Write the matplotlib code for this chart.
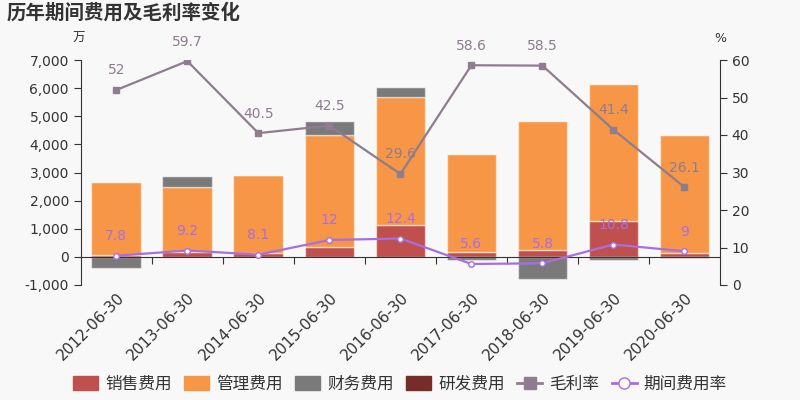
import numpy as np
import matplotlib
matplotlib.use("Agg")
import matplotlib.pyplot as plt
from matplotlib.ticker import FuncFormatter, FixedLocator
from matplotlib.lines import Line2D

plt.rcParams['font.family'] = ['DejaVu Sans', 'Noto Sans CJK SC']

# data (万 / %)
dates = ["2012-06-30", "2013-06-30", "2014-06-30", "2015-06-30", "2016-06-30",
         "2017-06-30", "2018-06-30", "2019-06-30", "2020-06-30"]
sales = [80, 177, 150, 340, 1120, 190, 260, 1290, 130]
admin = [2600, 2317, 2770, 4000, 4565, 3475, 4565, 4870, 4210]
finance = [-390, 380, 0, 500, 365, -95, -800, -105, -40]
rnd = [0, 0, 0, 0, 0, 0, 0, 0, 0]
gross_margin = [52, 59.7, 40.5, 42.5, 29.6, 58.6, 58.5, 41.4, 26.1]
expense_rate = [7.8, 9.2, 8.1, 12, 12.4, 5.6, 5.8, 10.8, 9]

c_sales = "#c0504d"
c_admin = "#f79646"
c_fin = "#7a7a7a"
c_rnd = "#772c2a"
c_gm = "#8e7c8f"
c_er = "#a86ee0"
bg = "#f8f8f8"

fig = plt.figure(figsize=(8, 4), dpi=100, facecolor=bg)
ax = fig.add_axes([0.101, 0.2875, 0.799, 0.5625])
ax.set_facecolor(bg)

x = np.arange(len(dates)) + 0.5
w = 0.7

# stack positives up, negatives down
pos_base = np.zeros(len(x))
neg_base = np.zeros(len(x))
for vals, col in [(sales, c_sales), (admin, c_admin), (finance, c_fin), (rnd, c_rnd)]:
    v = np.array(vals, dtype=float)
    bottom = np.where(v >= 0, pos_base, neg_base)
    ax.bar(x, v, w, bottom=bottom, color=col, edgecolor=(1, 1, 1, 0.5), linewidth=1, zorder=2)
    pos_base = pos_base + np.where(v > 0, v, 0)
    neg_base = neg_base + np.where(v < 0, v, 0)

ax.set_xlim(0, len(dates))
ax.set_ylim(-1000, 7000)
ax.set_yticks(range(-1000, 7001, 1000))
ax.yaxis.set_major_formatter(FuncFormatter(lambda v, p: f"{int(v):,}"))
ax.tick_params(axis='y', labelsize=10, colors="#333333", length=5)

ax.spines['top'].set_visible(False)
ax.spines['right'].set_visible(False)
ax.spines['left'].set_color("#333333")
ax.spines['bottom'].set_position(('data', 0))
ax.spines['bottom'].set_color("#333333")
ax.xaxis.set_major_locator(FixedLocator(range(1, len(dates))))
ax.tick_params(axis='x', which='major', length=5, labelbottom=False, color="#333333")
ax.set_xticks(x, minor=True)
ax.set_xticklabels(dates, minor=True, rotation=45, ha='right', rotation_mode='anchor',
                   fontsize=11, color="#333333")
ax.tick_params(axis='x', which='minor', length=0, pad=24)

ax2 = ax.twinx()
ax2.set_ylim(0, 60)
ax2.set_yticks(range(0, 61, 10))
ax2.tick_params(axis='y', labelsize=10, colors="#333333", length=5)
for s in ['top', 'left', 'bottom']:
    ax2.spines[s].set_visible(False)
ax2.spines['right'].set_color("#333333")

ax2.plot(x, gross_margin, color=c_gm, lw=1.6, marker='s', ms=4, zorder=4)
ax2.plot(x, expense_rate, color=c_er, lw=1.6, marker='o', ms=4,
         mfc='white', mec=c_er, mew=1, zorder=4)
for xi, g, e in zip(x, gross_margin, expense_rate):
    ax2.annotate(f"{g:g}", (xi, g), xytext=(0, 9), textcoords='offset points',
                 ha='center', va='bottom', fontsize=10, color=c_gm)
    ax2.annotate(f"{e:g}", (xi, e), xytext=(0, 9), textcoords='offset points',
                 ha='center', va='bottom', fontsize=10, color=c_er)

fig.text(0.008, 0.967, "历年期间费用及毛利率变化", fontsize=14, fontweight='bold',
         color="#333333", va='center', ha='left')
fig.text(0.099, 0.905, "万", fontsize=9, color="#333333", ha='center', va='center')
fig.text(0.9, 0.905, "%", fontsize=9, color="#333333", ha='center', va='center')

handles = [
    plt.Rectangle((0, 0), 1, 1, color=c_sales),
    plt.Rectangle((0, 0), 1, 1, color=c_admin),
    plt.Rectangle((0, 0), 1, 1, color=c_fin),
    plt.Rectangle((0, 0), 1, 1, color=c_rnd),
    Line2D([], [], color=c_gm, lw=2, marker='s', ms=8),
    Line2D([], [], color=c_er, lw=2, marker='o', ms=8, mfc='white', mec=c_er),
]
labels = ["销售费用", "管理费用", "财务费用", "研发费用", "毛利率", "期间费用率"]
fig.legend(handles, labels, loc='lower center', bbox_to_anchor=(0.5, -0.02), ncol=6,
           frameon=False, fontsize=12, handlelength=1.5, handleheight=0.9,
           columnspacing=0.75, handletextpad=0.42, labelcolor="#333333")

fig.savefig("out.png", dpi=100, facecolor=bg)
